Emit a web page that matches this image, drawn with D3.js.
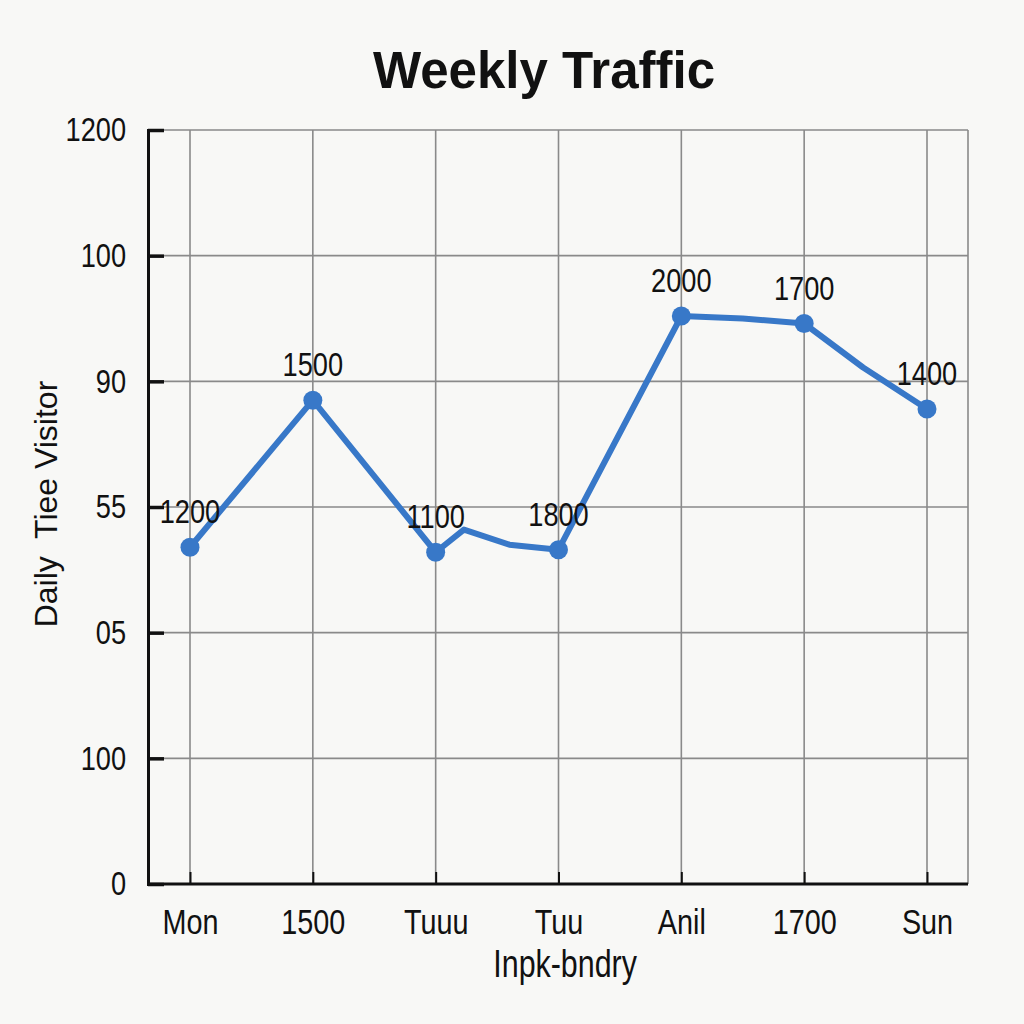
<!DOCTYPE html>
<html lang="en">
<head>
<meta charset="UTF-8">
<script src="https://d3js.org/d3.v7.min.js"></script>
<title>Weekly Traffic</title>
<style>
body { margin: 0; background: #f8f8f6; }
svg { display: block; }
.hand {
    font-family: "Liberation Sans", Arial, sans-serif;
    fill: #111;
    transform-box: fill-box;
    transform-origin: center;
    transform: scaleX(0.8);
}
.yhand { transform-origin: right center; }
</style>
</head>
<body>
<svg id="chart" width="1024" height="1024"></svg>
<script>
// categories along the bottom
var categories = ["Mon", "1500", "Tuuu", "Tuu", "Anil", "1700", "Sun"]
// labels written on the y axis, bottom to top
var yTickLabels = ["0", "100", "05", "55", "90", "100", "1200"]
// value labels written above each marker
var pointLabels = ["1200", "1500", "1100", "1800", "2000", "1700", "1400"]
// line path: position along the categories and height in grid rows
var linePos = [0, 1, 2, 2.23, 2.6, 3, 4, 4.5, 5, 5.48, 6]
var lineLevel = [2.68, 3.85, 2.64, 2.82, 2.7, 2.66, 4.52, 4.5, 4.46, 4.11, 3.78]
// marker positions (the seven days)
var markerPos = [0, 1, 2, 3, 4, 5, 6]
var markerLevel = [2.68, 3.85, 2.64, 2.66, 4.52, 4.46, 3.78]

var svg = d3.select("#chart"),
    margin = {top: 130, right: 56, bottom: 140, left: 148},
    width = +svg.attr("width"),
    height = +svg.attr("height")

var x = d3.scaleLinear()
    .domain([0, categories.length - 1])
    .range([190, 927])
var y = d3.scaleLinear()
    .domain([0, yTickLabels.length - 1])
    .range([height - margin.bottom, margin.top])

var blue = "#3878c8"

// title
svg.append("text")
    .attr("x", 544).attr("y", 88)
    .attr("text-anchor", "middle")
    .style("font-family", "Liberation Sans, Arial, sans-serif")
    .style("font-weight", "bold")
    .style("font-size", "51px")
    .style("fill", "#111")
    .text("Weekly Traffic")

// grid
var grid = svg.append("g").attr("stroke", "#8a8a8a").attr("stroke-width", 1.6)
grid.selectAll(".hgrid")
    .data(d3.range(1, yTickLabels.length))
    .enter().append("line")
    .attr("x1", margin.left).attr("x2", width - margin.right)
    .attr("y1", d => y(d)).attr("y2", d => y(d))
grid.selectAll(".vgrid")
    .data(markerPos)
    .enter().append("line")
    .attr("x1", d => x(d)).attr("x2", d => x(d))
    .attr("y1", margin.top).attr("y2", y(0))
grid.append("line")
    .attr("x1", width - margin.right).attr("x2", width - margin.right)
    .attr("y1", margin.top).attr("y2", y(0))

// y axis
var yAxis = d3.axisLeft(y)
    .tickValues(d3.range(yTickLabels.length))
    .tickFormat(i => yTickLabels[i])
    .tickSize(-16)
    .tickPadding(22)
var gy = svg.append("g")
    .attr("transform", `translate(${margin.left},0)`)
    .call(yAxis)
gy.select(".domain").attr("stroke", "#111").attr("stroke-width", 3)
gy.selectAll(".tick line").attr("stroke", "#111").attr("stroke-width", 3.5)
gy.selectAll(".tick text").attr("class", "hand yhand").style("font-size", "34px")

// x axis
var xAxis = d3.axisBottom(x)
    .tickValues(markerPos)
    .tickFormat(i => categories[i])
    .tickSize(-12)
    .tickPadding(24)
var gx = svg.append("g")
    .attr("transform", `translate(0,${y(0)})`)
    .call(xAxis)
gx.select(".domain").attr("d", `M${margin.left},0H${width - margin.right}`)
    .attr("stroke", "#111").attr("stroke-width", 3)
gx.selectAll(".tick line").attr("stroke", "#111").attr("stroke-width", 2)
gx.selectAll(".tick text").attr("class", "hand").style("font-size", "36px")

// axis titles
svg.append("text")
    .attr("transform", "translate(57,504) rotate(-90)")
    .attr("text-anchor", "middle")
    .style("font-family", "Liberation Sans, Arial, sans-serif")
    .style("font-size", "32px")
    .style("fill", "#111")
    .style("white-space", "pre")
    .text("Daily  Tiee Visitor")
svg.append("text")
    .attr("class", "hand")
    .attr("x", 565).attr("y", 977)
    .attr("text-anchor", "middle")
    .style("font-size", "38px")
    .text("Inpk-bndry")

// line
var lineData = linePos.map((p, i) => ({p: p, v: lineLevel[i]}))
var line = d3.line()
    .x(d => x(d.p))
    .y(d => y(d.v))
svg.append("path")
    .datum(lineData)
    .attr("d", line)
    .attr("fill", "none")
    .attr("stroke", blue)
    .attr("stroke-width", 6)
    .attr("stroke-linejoin", "round")
    .attr("stroke-linecap", "round")

var markers = markerPos.map((p, i) => ({p: p, v: markerLevel[i], label: pointLabels[i]}))
svg.selectAll(".dot")
    .data(markers)
    .enter().append("circle")
    .attr("class", "dot")
    .attr("cx", d => x(d.p))
    .attr("cy", d => y(d.v))
    .attr("r", 9.5)
    .attr("fill", blue)

svg.selectAll(".plabel")
    .data(markers)
    .enter().append("text")
    .attr("class", "hand plabel")
    .attr("x", d => x(d.p))
    .attr("y", d => y(d.v) - 24)
    .attr("text-anchor", "middle")
    .style("font-size", "34px")
    .text(d => d.label)
</script>
</body>
</html>
